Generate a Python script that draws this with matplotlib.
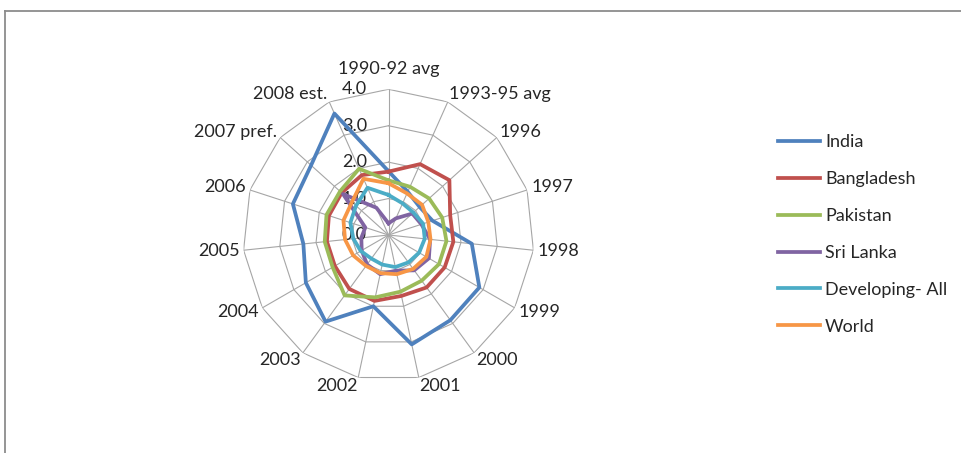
import numpy as np
import matplotlib
matplotlib.use("Agg")
import matplotlib.pyplot as plt
from matplotlib.lines import Line2D

plt.rcParams['font.family'] = ['Lato', 'DejaVu Sans']

categories = ["1990-92 avg", "1993-95 avg", "1996", "1997", "1998", "1999", "2000",
              "2001", "2002", "2003", "2004", "2005", "2006", "2007 pref.", "2008 est."]
india = [1.75, 1.30, 1.15, 1.27, 2.30, 2.88, 2.89, 3.07, 2.00, 2.94, 2.62, 2.35, 2.76, 2.86, 3.65]
bangladesh = [1.74, 2.13, 2.25, 1.78, 1.79, 1.78, 1.78, 1.71, 1.85, 1.83, 1.70, 1.70, 1.72, 1.73, 1.80]
pakistan = [1.50, 1.45, 1.50, 1.55, 1.60, 1.60, 1.55, 1.59, 1.75, 2.05, 1.77, 1.76, 1.79, 1.79, 1.99]
sri_lanka = [0.32, 0.50, 0.88, 0.95, 1.15, 1.28, 1.20, 1.00, 1.10, 1.00, 0.85, 0.75, 0.67, 1.68, 0.82]
developing = [1.10, 0.95, 0.92, 1.00, 1.00, 0.97, 0.93, 0.90, 0.83, 0.80, 0.88, 0.97, 1.10, 1.20, 1.42]
world = [1.42, 1.25, 1.24, 1.15, 1.16, 1.20, 1.15, 1.10, 1.07, 1.05, 1.12, 1.20, 1.30, 1.35, 1.69]

series_names = ["India", "Bangladesh", "Pakistan", "Sri Lanka", "Developing- All", "World"]
series_vals = [india, bangladesh, pakistan, sri_lanka, developing, world]
colors = ["#4F81BD", "#C0504D", "#9BBB59", "#8064A2", "#4BACC6", "#F79646"]
ticks = [0.0, 1.0, 2.0, 3.0, 4.0]
rmax = 4.0

W, H = 962, 453
fig = plt.figure(figsize=(W / 100, H / 100), dpi=100)
cx, cy, R = 388.5, 235.0, 145.7
ax = fig.add_axes([(cx - R) / W, 1 - (cy + R) / H, 2 * R / W, 2 * R / H], projection='polar')
ax.set_theta_zero_location('N')
ax.set_theta_direction(-1)
ax.set_ylim(0, rmax)
ax.grid(False)
ax.spines['polar'].set_visible(False)
ax.set_xticks([])
ax.set_yticks([])
ax.patch.set_alpha(0)

n = len(categories)
theta = np.arange(n) * 2 * np.pi / n
theta_c = np.append(theta, theta[0])

gcol = "#a6a6a6"
for t in ticks[1:]:
    ax.plot(theta_c, [t] * (n + 1), color=gcol, lw=0.8, zorder=1)
for th in theta:
    ax.plot([th, th], [0, rmax], color=gcol, lw=0.8, zorder=1)

handles = []
for name, vals, c in zip(series_names, series_vals, colors):
    v = np.append(vals, vals[0])
    ln, = ax.plot(theta_c, v, color=c, lw=2.7, solid_joinstyle='round', zorder=3, label=name)
    handles.append(ln)

tcol = "#262626"
fs = 13
for th, lab in zip(theta, categories):
    ang = np.pi / 2 - th
    c, s = np.cos(ang), np.sin(ang)
    if abs(c) < 0.1:
        ha, va = 'center', ('bottom' if s > 0 else 'top')
        off = (0, 9 * np.sign(s))
    else:
        ha = 'left' if c > 0 else 'right'
        va = 'center'
        off = (3 * c, 6 * s)
    ax.annotate(lab, xy=(th, rmax), xytext=off, textcoords='offset points',
                ha=ha, va=va, fontsize=fs, color=tcol, annotation_clip=False)

for t in ticks:
    ax.annotate(f"{t:.1f}", xy=(0, t), xytext=(-15.5, 0), textcoords='offset points',
                ha='right', va='center', fontsize=fs, color=tcol, zorder=2, annotation_clip=False)

leg = fig.legend(handles=handles, loc='upper left', bbox_to_anchor=(778 / W, 1 - 134 / H),
                 bbox_transform=fig.transFigure, frameon=False, fontsize=fs,
                 handlelength=2.35, handletextpad=0.25, labelspacing=1.16,
                 borderpad=0, borderaxespad=0)
for t in leg.get_texts():
    t.set_color(tcol)
for l in leg.get_lines():
    l.set_linewidth(2.7)

bcol = "#8c8c8c"
fig.add_artist(Line2D([4.5 / W, 1.0], [1 - 10.5 / H, 1 - 10.5 / H], transform=fig.transFigure, color=bcol, lw=1.3))
fig.add_artist(Line2D([4.5 / W, 4.5 / W], [0, 1 - 10.5 / H], transform=fig.transFigure, color=bcol, lw=1.3))

fig.savefig("out.png", dpi=100)
